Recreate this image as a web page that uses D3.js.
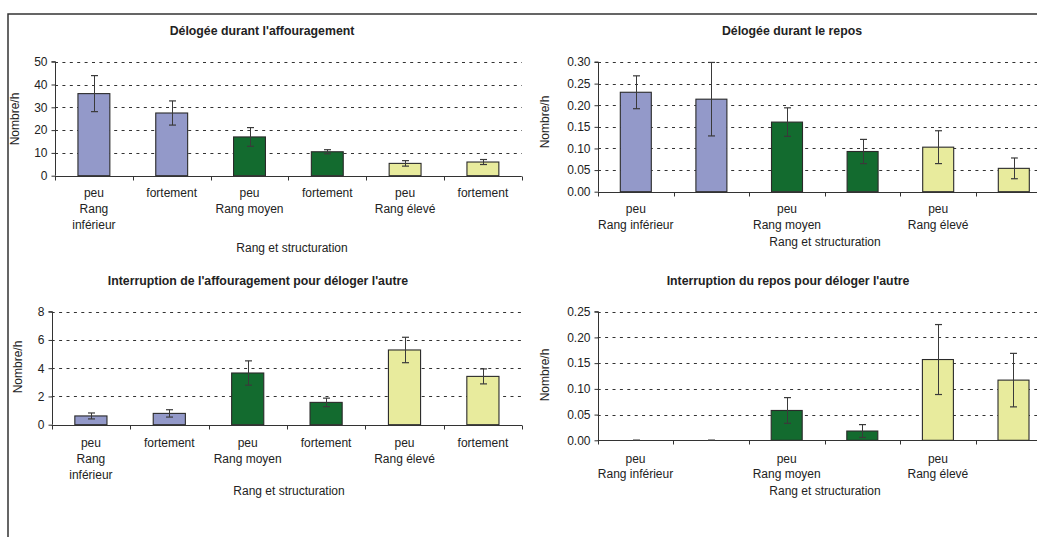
<!DOCTYPE html>
<html>
<head>
<meta charset="utf-8">
<script src="https://cdn.jsdelivr.net/npm/d3@7"></script>
<style>
  html, body { margin: 0; padding: 0; background: #fff; }
  svg { display: block; }
  text { font-family: "Liberation Sans", Arial, sans-serif; fill: #222; }
</style>
</head>
<body>
<svg id="chart" width="1037" height="537"></svg>
<script>
// ---------- DATA ----------
const structuration = ["peu", "fortement", "peu", "fortement", "peu", "fortement"];
const rangs = ["Rang inférieur", "Rang moyen", "Rang élevé"];
const groupOfBar = [0, 0, 1, 1, 2, 2];

const titles = [
  "Délogée durant l'affouragement",
  "Délogée durant le repos",
  "Interruption de l'affouragement pour déloger l'autre",
  "Interruption du repos pour déloger l'autre"
];
const yAxisTitle = "Nombre/h";
const xAxisTitle = "Rang et structuration";

const delogeeAffourMean = [36, 27.5, 17, 10.5, 5.4, 6];
const delogeeAffourErr  = [7.9, 5.3, 4.1, 0.9, 1.2, 1.1];

const delogeeReposMean = [0.230, 0.214, 0.161, 0.093, 0.103, 0.054];
const delogeeReposErr  = [0.038, 0.085, 0.033, 0.028, 0.038, 0.024];

const interAffourMean = [0.62, 0.80, 3.66, 1.58, 5.29, 3.42];
const interAffourErr  = [0.21, 0.26, 0.86, 0.30, 0.90, 0.53];

const interReposMean = [0, 0, 0.058, 0.018, 0.157, 0.117];
const interReposErr  = [0, 0, 0.025, 0.0125, 0.068, 0.052];

const ticksTL = [0, 10, 20, 30, 40, 50];
const ticksTR = [0, 0.05, 0.10, 0.15, 0.20, 0.25, 0.30];
const ticksBL = [0, 2, 4, 6, 8];
const ticksBR = [0, 0.05, 0.10, 0.15, 0.20, 0.25];

const barColors = ["#9399C9", "#136B2F", "#E8EB9D"];

// ---------- LAYOUT ----------
const panels = [
  { title: titles[0], mean: delogeeAffourMean, err: delogeeAffourErr, ticks: ticksTL, fmt: d3.format("d"),
    x0: 55, step: 77.8, yTop: 61.7, yBot: 175.7, titleX: 262, titleY: 35,
    yTitleX: 15, yTitleY: 119, labelY: 197, axisTitleX: 292, axisTitleY: 252, compact: false },
  { title: titles[1], mean: delogeeReposMean, err: delogeeReposErr, ticks: ticksTR, fmt: d3.format(".2f"),
    x0: 598, step: 75.6, yTop: 62, yBot: 191.7, titleX: 792, titleY: 35,
    yTitleX: 545, yTitleY: 122, labelY: 213, axisTitleX: 825, axisTitleY: 245.5, compact: true },
  { title: titles[2], mean: interAffourMean, err: interAffourErr, ticks: ticksBL, fmt: d3.format("d"),
    x0: 51.7, step: 78.4, yTop: 311.7, yBot: 424.7, titleX: 258, titleY: 285,
    yTitleX: 18, yTitleY: 367, labelY: 447, axisTitleX: 289, axisTitleY: 495, compact: false },
  { title: titles[3], mean: interReposMean, err: interReposErr, ticks: ticksBR, fmt: d3.format(".2f"),
    x0: 597.7, step: 75.6, yTop: 311.7, yBot: 440.3, titleX: 788, titleY: 285,
    yTitleX: 545, yTitleY: 375, labelY: 462.5, axisTitleX: 825, axisTitleY: 495, compact: true }
];

const svg = d3.select("#chart");

// outer frame (top and left edges visible)
svg.append("path")
  .attr("d", "M8,537 L8,14 L1037,14")
  .attr("fill", "none").attr("stroke", "#333").attr("stroke-width", 1.5);

panels.forEach(p => {
  const g = svg.append("g");
  const idx = d3.range(structuration.length);
  const x1 = p.x0 + p.step * idx.length;
  const x = d3.scaleBand().domain(idx).range([p.x0, x1]).paddingInner(0).paddingOuter(0);
  const y = d3.scaleLinear().domain([0, d3.max(p.ticks)]).range([p.yBot, p.yTop]);

  // title
  g.append("text").attr("x", p.titleX).attr("y", p.titleY)
    .attr("text-anchor", "middle").attr("font-size", 12.3).attr("font-weight", "bold")
    .text(p.title);

  // gridlines
  g.selectAll(".grid").data(p.ticks.filter(t => t > 0)).join("line")
    .attr("x1", p.x0).attr("x2", x1)
    .attr("y1", d => Math.round(y(d)) + 0.5).attr("y2", d => Math.round(y(d)) + 0.5)
    .attr("stroke", "#333").attr("stroke-width", 1).attr("stroke-dasharray", "3,4.4");

  // y axis
  const yAxis = d3.axisLeft(y).tickValues(p.ticks).tickFormat(p.fmt).tickSize(4).tickPadding(4);
  const ya = g.append("g").attr("transform", `translate(${Math.round(p.x0) + 0.5},0)`).call(yAxis);
  ya.select(".domain").attr("stroke", "#333").attr("d", `M-4,${y(d3.max(p.ticks))}H0V${p.yBot}`);
  ya.selectAll(".tick line").attr("stroke", "#333");
  ya.selectAll(".tick text").attr("font-size", 12).attr("fill", "#222")
    .attr("font-family", '"Liberation Sans", Arial, sans-serif');

  // y axis title
  g.append("text")
    .attr("transform", `translate(${p.yTitleX + 4},${p.yTitleY}) rotate(-90)`)
    .attr("text-anchor", "middle").attr("font-size", 12).text(yAxisTitle);

  // bars
  const bw = x.bandwidth() * 0.41;
  g.selectAll(".bar").data(idx.filter(i => p.mean[i] > 0)).join("rect")
    .attr("x", i => x(i) + (x.bandwidth() - bw) / 2)
    .attr("y", i => y(p.mean[i]))
    .attr("width", bw)
    .attr("height", i => y(0) - y(p.mean[i]))
    .attr("fill", i => barColors[groupOfBar[i]])
    .attr("stroke", "#2a2a2a").attr("stroke-width", 1.1);

  // x axis line and ticks at band boundaries
  const yb = Math.round(p.yBot) + 0.5;
  g.append("line").attr("x1", p.x0).attr("x2", x1).attr("y1", yb).attr("y2", yb)
    .attr("stroke", "#333").attr("stroke-width", 1);
  g.selectAll(".xtick").data(d3.range(idx.length + 1)).join("line")
    .attr("x1", i => Math.round(p.x0 + i * x.step()) + 0.5)
    .attr("x2", i => Math.round(p.x0 + i * x.step()) + 0.5)
    .attr("y1", yb).attr("y2", yb + 4)
    .attr("stroke", "#333").attr("stroke-width", 1);

  // error bars
  const eb = g.selectAll(".err").data(idx).join("g");
  const cx = i => Math.round(x(i) + x.bandwidth() / 2) + 0.5;
  eb.append("line")
    .attr("x1", cx).attr("x2", cx)
    .attr("y1", i => y(p.mean[i] + p.err[i])).attr("y2", i => y(Math.max(0, p.mean[i] - p.err[i])))
    .attr("stroke", "#3a3a3a").attr("stroke-width", 1);
  [1, -1].forEach(s => {
    eb.append("line")
      .attr("x1", i => cx(i) - 3.5).attr("x2", i => cx(i) + 3.5)
      .attr("y1", i => y(Math.max(0, p.mean[i] + s * p.err[i])))
      .attr("y2", i => y(Math.max(0, p.mean[i] + s * p.err[i])))
      .attr("stroke", "#3a3a3a").attr("stroke-width", 1.2);
  });

  // category labels
  const lh = 15.8;
  if (!p.compact) {
    idx.forEach(i => {
      const cxx = x(i) + x.bandwidth() / 2;
      const lines = [structuration[i]];
      if (i % 2 === 0) {
        const r = rangs[groupOfBar[i]];
        if (r === "Rang inférieur") { lines.push("Rang", "inférieur"); } else { lines.push(r); }
      }
      const t = g.append("text").attr("text-anchor", "middle").attr("font-size", 12);
      lines.forEach((l, k) => t.append("tspan").attr("x", cxx).attr("y", p.labelY + k * lh).text(l));
    });
  } else {
    idx.filter(i => i % 2 === 0).forEach(i => {
      const cxx = x(i) + x.bandwidth() / 2;
      const t = g.append("text").attr("text-anchor", "middle").attr("font-size", 12);
      [structuration[i], rangs[groupOfBar[i]]].forEach((l, k) =>
        t.append("tspan").attr("x", cxx).attr("y", p.labelY + k * lh).text(l));
    });
  }

  // x axis title
  g.append("text").attr("x", p.axisTitleX).attr("y", p.axisTitleY)
    .attr("text-anchor", "middle").attr("font-size", 12).text(xAxisTitle);
});
</script>
</body>
</html>
